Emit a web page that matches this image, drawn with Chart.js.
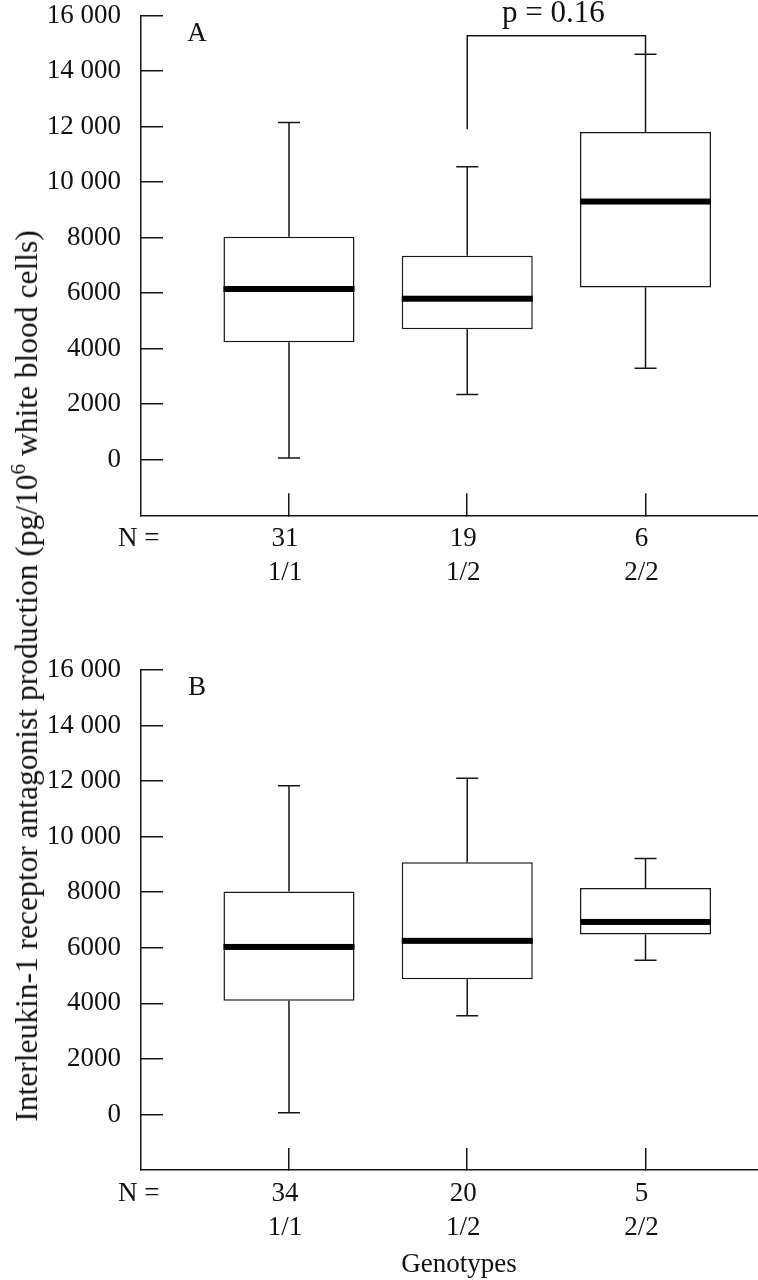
<!DOCTYPE html>
<html>
<head>
<meta charset="utf-8">
<script src="https://cdn.jsdelivr.net/npm/chart.js@4.4.0/dist/chart.umd.min.js"></script>
<style>
  body { margin: 0; background: #fff; }
  #wrap { position: relative; width: 758px; height: 1280px; overflow: hidden; background: #fff; }
  #chartA { position: absolute; left: 0; top: 0; }
  #chartB { position: absolute; left: 0; top: 620px; }
  #ytitle {
    position: absolute; left: 25px; top: 676px;
    transform: translate(-50%, -50%) rotate(-90deg);
    font: 31.5px 'Liberation Serif', 'Times New Roman', serif;
    white-space: nowrap; color: #111; line-height: 1;
  }
  #ytitle sup { font-size: 21px; }
</style>
</head>
<body>
<div id="wrap">
  <canvas id="chartA" width="758" height="620"></canvas>
  <canvas id="chartB" width="758" height="660"></canvas>
  <div id="ytitle">Interleukin-1 receptor antagonist production (pg/10<sup>6</sup> white blood cells)</div>
</div>
<script>
let genotypes = ["1/1", "1/2", "2/2"];

// panel A
let nA = ["31", "19", "6"];
let minA = [60, 2350, 3300];
let q1A = [4230, 4700, 6200];
let medA = [6150, 5800, 9300];
let q3A = [8030, 7350, 11800];
let maxA = [12150, 10550, 14600];

// panel B
let nB = ["34", "20", "5"];
let minB = [60, 3550, 5550];
let q1B = [4090, 4870, 6480];
let medB = [6030, 6250, 6930];
let q3B = [8030, 9080, 8150];
let maxB = [11830, 12100, 9210];

let yTicks = [0, 2000, 4000, 6000, 8000, 10000, 12000, 14000, 16000];
let yTickLabels = ["0", "2000", "4000", "6000", "8000", "10 000", "12 000", "14 000", "16 000"];

// p value bracket in panel A (group 2 vs group 3)
let pText = "p = 0.16";
let pFrom = 2;
let pTo = 3;
let pLeftEnd = 11900;
let pTop = 15270;

let ink = "#161616";
let fontFamily = "'Liberation Serif', 'Times New Roman', serif";

Chart.defaults.font.family = fontFamily;
Chart.defaults.font.size = 27;
Chart.defaults.color = "#111";

function makeExtras(p){
    return {
        id: "boxExtras",
        afterDatasetsDraw(chart){
            let ctx = chart.ctx;
            let xs = chart.scales.x;
            let ys = chart.scales.y;
            let area = chart.chartArea;
            let bars = chart.getDatasetMeta(0).data;

            ctx.save();
            ctx.strokeStyle = ink;
            ctx.fillStyle = ink;
            ctx.lineWidth = 1.5;

            for(let i = 0; i < p.med.length; i++){
                let x = xs.getPixelForValue(i + 1);

                // whiskers
                ctx.beginPath();
                ctx.moveTo(x, ys.getPixelForValue(p.q3[i]));
                ctx.lineTo(x, ys.getPixelForValue(p.max[i]));
                ctx.moveTo(x - 11, ys.getPixelForValue(p.max[i]));
                ctx.lineTo(x + 11, ys.getPixelForValue(p.max[i]));
                ctx.moveTo(x, ys.getPixelForValue(p.q1[i]));
                ctx.lineTo(x, ys.getPixelForValue(p.min[i]));
                ctx.moveTo(x - 11, ys.getPixelForValue(p.min[i]));
                ctx.lineTo(x + 11, ys.getPixelForValue(p.min[i]));
                ctx.stroke();

                // median
                let bar = bars[i];
                let ym = ys.getPixelForValue(p.med[i]);
                ctx.fillStyle = "#000";
                ctx.fillRect(bar.x - bar.width / 2, ym - 3, bar.width, 6);
                ctx.fillStyle = ink;
            }

            // bracket
            if(p.bracket){
                let xl = xs.getPixelForValue(pFrom);
                let xr = xs.getPixelForValue(pTo);
                let yt = ys.getPixelForValue(pTop);
                ctx.beginPath();
                ctx.moveTo(xl, ys.getPixelForValue(pLeftEnd));
                ctx.lineTo(xl, yt);
                ctx.lineTo(xr, yt);
                ctx.lineTo(xr, ys.getPixelForValue(maxA[pTo - 1]));
                ctx.stroke();

                ctx.fillStyle = "#111";
                ctx.font = "31px " + fontFamily;
                ctx.textAlign = "center";
                ctx.textBaseline = "alphabetic";
                ctx.fillText(pText, (xl + xr) / 2 - 3, yt - 13.5);
            }

            ctx.fillStyle = "#111";
            ctx.font = "27px " + fontFamily;

            // panel letter
            ctx.textAlign = "center";
            ctx.textBaseline = "middle";
            ctx.fillText(p.letter, area.left + 56, area.top + 18);

            // N =
            ctx.textAlign = "left";
            ctx.fillText("N =", 118, area.bottom + 24);

            // x label
            if(p.xlabel){
                ctx.textAlign = "center";
                ctx.fillText(p.xlabel, 459, area.bottom + 95);
            }

            ctx.restore();
        }
    };
}

function makeChart(id, p){
    let ctx = document.getElementById(id).getContext("2d");

    return new Chart(ctx, {
        type: "bar",
        data: {
            datasets: [{
                data: p.q1.map((v, i) => ({ x: i + 1, y: [v, p.q3[i]] })),
                backgroundColor: "#fff",
                borderColor: ink,
                borderWidth: 1.5,
                borderSkipped: false,
                barPercentage: 0.735,
                categoryPercentage: 1
            }]
        },
        options: {
            responsive: false,
            animation: false,
            events: [],
            layout: { padding: { top: p.padTop, left: 0, right: 0, bottom: 0 } },
            plugins: {
                legend: { display: false },
                tooltip: { enabled: false }
            },
            scales: {
                x: {
                    type: "linear",
                    min: 0.17,
                    max: 3.631,
                    offset: false,
                    grid: { offset: false, drawOnChartArea: false, tickLength: -22, color: ink, lineWidth: 1.5 },
                    border: { color: ink, width: 1.5 },
                    ticks: {
                        padding: 29,
                        labelOffset: -4,
                        maxRotation: 0,
                        autoSkip: false,
                        font: { size: 27, lineHeight: 1.26 },
                        callback: (v, i) => [p.n[i], genotypes[i]]
                    },
                    afterBuildTicks: s => { s.ticks = genotypes.map((g, i) => ({ value: i + 1 })); },
                    afterFit: s => {
                        s.height = p.xHeight;
                        s.paddingLeft = 0;
                        s.paddingRight = 0;
                    }
                },
                y: {
                    min: -2000,
                    max: 16000,
                    grid: { drawOnChartArea: false, tickLength: -22, color: ink, lineWidth: 1.5 },
                    border: { color: ink, width: 1.5 },
                    ticks: {
                        padding: 42,
                        font: { size: 27, lineHeight: 1 },
                        callback: (v, i) => yTickLabels[i]
                    },
                    afterBuildTicks: s => { s.ticks = yTicks.map(v => ({ value: v })); },
                    afterFit: s => {
                        s.width = 141;
                        s.paddingTop = 0;
                        s.paddingBottom = 0;
                    }
                }
            }
        },
        plugins: [makeExtras(p)]
    });
}

makeChart("chartA", {
    n: nA, min: minA, q1: q1A, med: medA, q3: q3A, max: maxA,
    letter: "A", bracket: true, padTop: 15.5, xHeight: 104.7
});

makeChart("chartB", {
    n: nB, min: minB, q1: q1B, med: medB, q3: q3B, max: maxB,
    letter: "B", xlabel: "Genotypes", padTop: 50, xHeight: 110
});
</script>
</body>
</html>
